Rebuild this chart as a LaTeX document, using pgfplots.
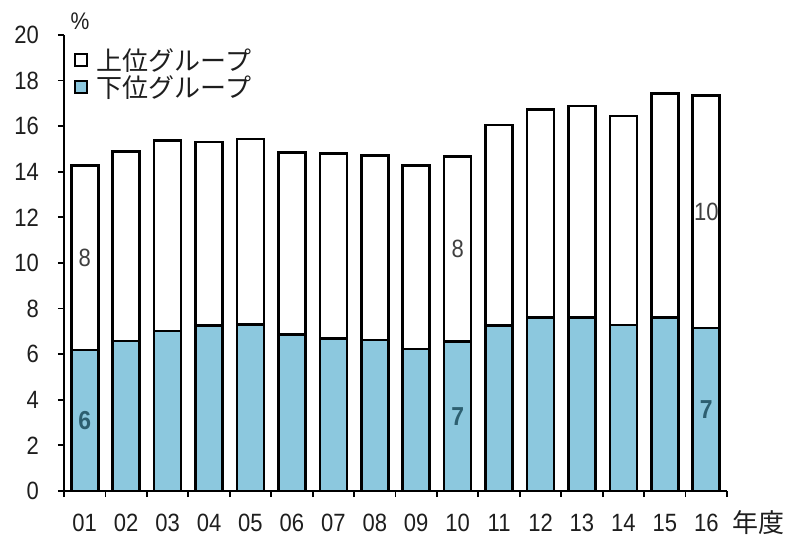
\documentclass[border=0pt]{standalone}
\usepackage{fontspec}
\usepackage{pgfplots}
\usepackage{pgfplotstable}
\usetikzlibrary{calc}
\pgfplotsset{compat=1.18}
\setmainfont{Liberation Sans}[FakeStretch=0.88]
\newfontfamily\jp{Noto Sans CJK JP}
\definecolor{barblue}{RGB}{140,200,222}
\definecolor{labteal}{RGB}{45,95,112}
\definecolor{txt}{RGB}{30,30,30}

% share of the lower and upper group (%), fiscal years 2001-2016
\pgfplotstableread{
yr lower upper
1  6.18 8.09
2  6.58 8.32
3  7.02 8.34
4  7.25 8.05
5  7.31 8.13
6  6.87 7.98
7  6.68 8.12
8  6.62 8.10
9  6.23 8.04
10 6.55 8.11
11 7.25 8.80
12 7.60 9.14
13 7.60 9.29
14 7.28 9.17
15 7.60 9.84
16 7.15 10.19
}\shares

\begin{document}
\begin{tikzpicture}
\path[use as bounding box] (-64bp,-48bp) rectangle (726bp,491bp);
\begin{axis}[
  scale only axis, width=663bp, height=456bp,
  xmin=0.5, xmax=16.5, ymin=0, ymax=20,
  ybar stacked, bar width=27bp,
  axis lines*=left,
  axis line style={line width=2.6bp, -, black},
  x axis line style={line width=2.6bp, -, black},
  y axis line style={line width=2.6bp, -, black},
  tick align=outside,
  major tick length=6bp, minor tick length=6bp,
  xtick={1,...,16},
  xticklabels={01,02,03,04,05,06,07,08,09,10,11,12,13,14,15,16},
  minor xtick={0.5,1.5,...,16.5},
  major x tick style={draw=none},
  minor x tick style={line width=1.8bp, black},
  ytick={0,2,...,20},
  ytick style={line width=1.8bp, black},
  /pgf/number format/assume math mode=true,
  yticklabel style={font=\fontsize{25bp}{25bp}\selectfont, text=txt,
    inner sep=0pt, anchor=east, xshift=-19bp},
  xticklabel style={font=\fontsize{25bp}{25bp}\selectfont, text=txt,
    inner sep=0pt, anchor=north, yshift=-17bp},
  clip=false,
  reverse legend,
  legend style={draw=none, fill=none, at={(rel axis cs:0,1)},
    anchor=north west, xshift=10bp, yshift=-11bp,
    font=\jp\fontsize{26bp}{29bp}\selectfont, text=txt,
    inner sep=0pt, row sep=0bp, cells={anchor=west}},
  legend image code/.code={\draw[#1, line width=1.4bp] (0bp,-6bp) rectangle (12bp,6bp);},
]
\addplot[fill=barblue, draw=black, line width=2.6bp] table[x=yr, y=lower]{\shares};
\addplot[fill=white, draw=black, line width=2.6bp] table[x=yr, y=upper]{\shares};
\legend{\hspace{7bp}下位グループ, \hspace{7bp}上位グループ}

% centres of the labelled segments
\coordinate (l1) at (axis cs:1,3.09);
\coordinate (l10) at (axis cs:10,3.27);
\coordinate (l16) at (axis cs:16,3.57);
\coordinate (u1) at (axis cs:1,10.22);
\coordinate (u10) at (axis cs:10,10.60);
\coordinate (u16) at (axis cs:16,12.25);
\coordinate (pct) at (rel axis cs:0,1);
\coordinate (yrs) at (rel axis cs:1,0);
\end{axis}

% rounded segment values written inside selected bars
\begin{scope}[every node/.style={font=\bfseries\fontsize{26bp}{26bp}\selectfont, text=labteal}]
\node at (l1) {6};
\node at (l10) {7};
\node at (l16) {7};
\end{scope}
\begin{scope}[every node/.style={font=\fontsize{25bp}{25bp}\selectfont, text=black!75}]
\node at (u1) {8};
\node at (u10) {8};
\node at (u16) {10};
\end{scope}

\node[font=\fontsize{24bp}{24bp}\selectfont, text=txt] at ($(pct)+(16bp,14bp)$) {\%};
\node[font=\jp\fontsize{26bp}{26bp}\selectfont, text=txt, anchor=west, inner sep=0pt]
  at ($(yrs)+(5bp,-32bp)$) {年度};
\end{tikzpicture}
\end{document}
